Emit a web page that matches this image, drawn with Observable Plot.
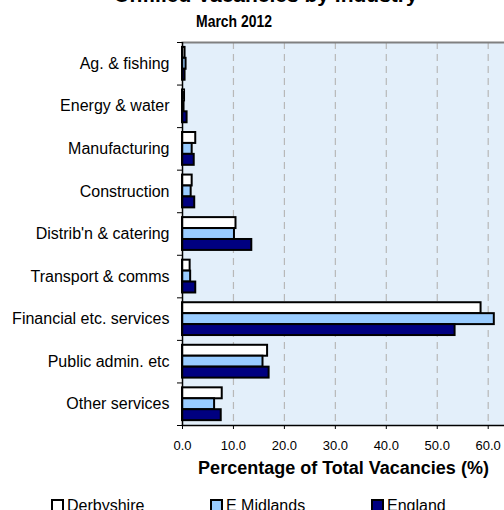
<!DOCTYPE html>
<html><head><meta charset="utf-8">
<script src="https://cdn.jsdelivr.net/npm/d3@7"></script>
<script src="https://cdn.jsdelivr.net/npm/@observablehq/plot@0.6"></script>
<style>
body{margin:0;background:#fff;font-family:"Liberation Sans",Arial,sans-serif;}
#wrap{position:relative;width:504px;height:510px;overflow:hidden;background:#fff;}
#chart{position:absolute;left:0;top:0;}
#title{position:absolute;left:0;width:532px;top:-16px;text-align:center;font-weight:bold;font-size:21px;line-height:21px;color:#000;white-space:nowrap;}
#subtitle{position:absolute;left:0;width:468px;top:13px;text-align:center;font-weight:bold;font-size:17px;line-height:17px;color:#000;white-space:nowrap;transform:scaleX(0.82);transform-origin:234px 0;}
.lg{position:absolute;top:498px;display:flex;align-items:flex-start;font-size:16px;line-height:16px;color:#000;white-space:nowrap;}
.sw{width:9px;height:9px;border:2px solid #000;margin-right:3px;margin-top:1px;}
</style>
</head><body>
<div id="wrap">
  <div id="chart"></div>
  <div id="title"></div>
  <div id="subtitle"></div>
  <div id="legend"></div>
</div>
<script>
const titleText = "Unfilled Vacancies by Industry";
const subtitleText = "March 2012";
const xLabel = "Percentage of Total Vacancies (%)";
const categories = ["Ag. & fishing","Energy & water","Manufacturing","Construction","Distrib'n & catering","Transport & comms","Financial etc. services","Public admin. etc","Other services"];
const seriesNames = ["Derbyshire","E Midlands","England"];
const derbyshire = [0.5, 0.4, 2.6, 1.9, 10.5, 1.5, 58.6, 16.7, 7.8];
const eMidlands  = [0.7, 0.3, 1.9, 1.7, 10.2, 1.6, 61.2, 15.8, 6.3];
const england    = [0.5, 0.9, 2.3, 2.4, 13.6, 2.6, 53.5, 17.0, 7.6];
const seriesColors = ["#FFFFFF","#99CCFF","#000080"];
const xTicks = [0,10,20,30,40,50,60];

document.getElementById("title").textContent = titleText;
document.getElementById("subtitle").textContent = subtitleText;

const seriesValues = [derbyshire, eMidlands, england];
const groupPad = 0.115, barStep = 0.257;
const rows = categories.flatMap((c, i) => seriesNames.map((s, k) => ({
  category: c, series: s, value: seriesValues[k][i],
  y1: i + groupPad + k * barStep, y2: i + groupPad + (k + 1) * barStep
})));
const n = categories.length;

const chart = Plot.plot({
  width: 504, height: 480,
  marginLeft: 182, marginRight: 0, marginTop: 42, marginBottom: 55,
  style: {fontFamily: "Liberation Sans, Arial, sans-serif", fontSize: "13px", color: "#000", background: "transparent"},
  x: {domain: [0, 63.2]},
  y: {domain: [0, n], reverse: true},
  color: {domain: seriesNames, range: seriesColors},
  marks: [
    Plot.frame({fill: "#E3EFFA", stroke: null}),
    Plot.gridX(xTicks.slice(1), {stroke: "#B8B8B8", strokeOpacity: 1, strokeWidth: 1.2, strokeDasharray: "7,5"}),
    Plot.frame({anchor: "top", stroke: "#808080", strokeWidth: 2}),
    Plot.rectX(rows, {x: "value", y1: "y1", y2: "y2", fill: "series", stroke: "#000", strokeWidth: 2}),
    Plot.ruleX([0], {stroke: "#000", strokeWidth: 1.5}),
    Plot.frame({anchor: "bottom", stroke: "#000", strokeWidth: 1.5}),
    Plot.axisX({ticks: xTicks, tickFormat: d3.format(".1f"), tickSize: 4, tickPadding: 11, fontSize: 13,
      label: xLabel, labelAnchor: "center", labelArrow: "none", labelOffset: 48}),
    Plot.axisY({ticks: d3.range(0, n + 1), tickFormat: () => "", tickSize: 5, label: null}),
    Plot.axisY({ticks: d3.range(n).map(i => i + 0.5), tickFormat: v => categories[Math.floor(v)], tickSize: 0, tickPadding: 13, fontSize: 16, label: null})
  ]
});
document.getElementById("chart").appendChild(chart);
chart.querySelectorAll('g[aria-label="x-axis label"] text').forEach(t => {
  t.setAttribute("font-weight", "bold"); t.setAttribute("font-size", "18");
});

const legend = document.getElementById("legend");
const legendLeft = [51, 210, 371];
seriesNames.forEach((s, k) => {
  const item = document.createElement("div");
  item.className = "lg";
  item.style.left = legendLeft[k] + "px";
  const sw = document.createElement("span");
  sw.className = "sw";
  sw.style.background = seriesColors[k];
  const tx = document.createElement("span");
  tx.textContent = s;
  item.appendChild(sw); item.appendChild(tx);
  legend.appendChild(item);
});
</script>
</body></html>
